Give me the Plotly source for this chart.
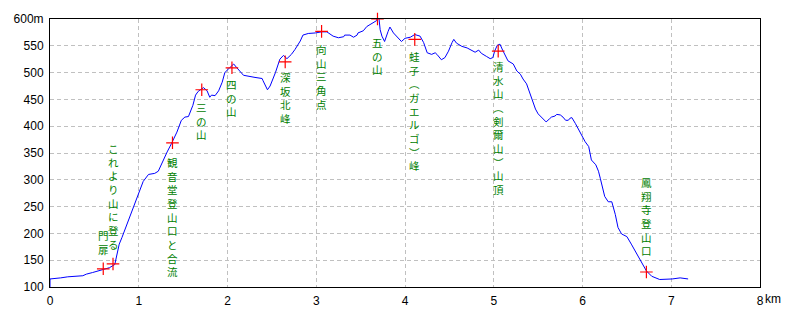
import plotly.graph_objects as go

# ---- profile data (distance km, elevation m) ----
DIST_KM = [0.00, 0.00, 0.12, 0.20, 0.37, 0.41, 0.48, 0.58, 0.67, 0.73, 0.75, 0.78, 0.81, 0.86, 0.92,
           0.98, 1.02, 1.05, 1.11, 1.18, 1.22, 1.27, 1.32, 1.37, 1.43, 1.48, 1.52, 1.56, 1.61, 1.64,
           1.67, 1.73, 1.77, 1.80, 1.82, 1.86, 1.90, 1.94, 1.97, 2.03, 2.07, 2.10, 2.14, 2.18, 2.31,
           2.39, 2.40, 2.45, 2.48, 2.54, 2.59, 2.63, 2.67, 2.72, 2.76, 2.82, 2.85, 2.91, 2.99, 3.06,
           3.12, 3.16, 3.19, 3.25, 3.31, 3.32, 3.38, 3.42, 3.46, 3.47, 3.53, 3.57, 3.61, 3.64, 3.68,
           3.70, 3.72, 3.74, 3.77, 3.81, 3.83, 3.87, 3.92, 3.96, 4.00, 4.06, 4.11, 4.17, 4.21, 4.25,
           4.30, 4.34, 4.36, 4.41, 4.45, 4.49, 4.53, 4.55, 4.58, 4.64, 4.70, 4.75, 4.79, 4.83, 4.86,
           4.92, 4.96, 4.99, 5.01, 5.04, 5.07, 5.10, 5.13, 5.16, 5.22, 5.26, 5.30, 5.33, 5.37, 5.41,
           5.45, 5.47, 5.50, 5.54, 5.59, 5.63, 5.65, 5.69, 5.71, 5.75, 5.78, 5.81, 5.84, 5.86, 5.88,
           5.92, 5.95, 5.99, 6.03, 6.07, 6.09, 6.10, 6.15, 6.18, 6.20, 6.22, 6.25, 6.29, 6.33, 6.37,
           6.40, 6.44, 6.50, 6.55, 6.61, 6.67, 6.72, 6.78, 6.87, 7.01, 7.10, 7.19]
ELEV_M = [100, 115, 117, 119, 121, 124, 127, 131, 136, 142, 156, 180, 192, 214, 239,
          264, 282, 297, 310, 312, 316, 335, 352, 368, 389, 411, 417, 418, 439, 458,
          465, 472, 466, 454, 458, 457, 466, 482, 500, 510, 516, 510, 503, 495, 491,
          489, 485, 468, 475, 500, 525, 532, 526, 534, 543, 559, 570, 573, 574, 576,
          576, 572, 568, 565, 567, 570, 570, 566, 570, 574, 578, 586, 590, 593, 597,
          612, 580, 568, 558, 577, 585, 574, 565, 558, 564, 566, 571, 568, 556, 537,
          534, 537, 534, 524, 528, 540, 556, 562, 555, 549, 546, 542, 538, 542, 536,
          530, 526, 528, 540, 551, 553, 542, 531, 522, 516, 503, 497, 488, 479, 460,
          442, 432, 423, 416, 408, 414, 417, 419, 422, 421, 417, 411, 411, 415, 416,
          405, 396, 383, 371, 362, 346, 337, 328, 316, 303, 287, 269, 259, 259, 235,
          211, 199, 194, 180, 162, 146, 130, 120, 114, 115, 117, 115]

# ---- points of interest ----
POI_KM = [0.60, 0.71, 1.38, 1.71, 2.05, 2.65, 3.06, 3.69, 4.11, 5.05, 6.72]
POI_M = [134, 143, 369, 468, 509, 520, 577, 600, 562, 540, 128]
POI_NAMES = ["門扉", "これより山に登る", "観音堂登山口と合流", "三の山", "四の山", "深坂北峰",
             "向山三角点", "五の山", "蛙子（ガエルゴ）峰", "清水山（剣爾山）山頂", "鳳翔寺登山口"]

# ---- axes ----
X_TICKS = [0, 1, 2, 3, 4, 5, 6, 7, 8]
X_TICK_LABELS = ["0", "1", "2", "3", "4", "5", "6", "7", "8"]
X_UNIT = "km"
Y_TICKS = [100, 150, 200, 250, 300, 350, 400, 450, 500, 550, 600]
Y_TICK_LABELS = ["100", "150", "200", "250", "300", "350", "400", "450", "500", "550", "600m"]

# ---- label placement (layout only): +1 above marker, -1 below; pixel shift of label box ----
LABEL_SIDE = [1, 1, -1, -1, -1, -1, -1, -1, -1, -1, 1]
LABEL_SHIFT = [11, 11, 11, 9, 8, 7, 10, 15, 9, 7, 13]
VERTICAL_FORMS = {"（": "︵", "）": "︶", "(": "︵", ")": "︶"}

fig = go.Figure()
fig.add_trace(go.Scatter(x=DIST_KM, y=ELEV_M, mode="lines",
                         line=dict(color="#0000FF", width=1), hoverinfo="skip"))
fig.add_trace(go.Scatter(x=POI_KM, y=POI_M, mode="markers",
                         marker=dict(symbol="cross-thin", size=9,
                                     line=dict(color="#FF0000", width=1.2)),
                         hoverinfo="skip", cliponaxis=False))

annotations = []
for k, name in enumerate(POI_NAMES):
    vtext = "<br>".join(VERTICAL_FORMS.get(c, c) for c in name)
    above = LABEL_SIDE[k] > 0
    annotations.append(dict(x=POI_KM[k], y=POI_M[k], xref="x", yref="y", text=vtext,
                            showarrow=False, xanchor="center",
                            yanchor="bottom" if above else "top",
                            yshift=LABEL_SHIFT[k] if above else -LABEL_SHIFT[k],
                            borderpad=0,
                            font=dict(family="Noto Sans CJK JP", size=10.5, color="#008000")))
annotations.append(dict(x=X_TICKS[-1], y=0, xref="x", yref="paper", text=X_UNIT,
                        showarrow=False, xanchor="left", yanchor="middle", xshift=3,
                        yshift=-12, font=dict(family="Liberation Sans", size=12, color="#000000")))

fig.update_layout(
    width=800, height=320,
    margin=dict(l=50, r=40, t=19, b=30),
    paper_bgcolor="white", plot_bgcolor="white",
    showlegend=False,
    annotations=annotations,
    font=dict(family="Liberation Sans", size=12, color="#000000"),
)
fig.update_xaxes(range=[0, 8], tickvals=X_TICKS, ticktext=X_TICK_LABELS,
                 showgrid=True, gridcolor="#C0C0C0", griddash="4px,3px", gridwidth=1,
                 showline=True, linecolor="#000000", linewidth=1, mirror=True,
                 zeroline=False, ticks="outside", ticklen=3, tickcolor="rgba(0,0,0,0)",
                 tickfont=dict(family="Liberation Sans", size=12, color="#000000"))
fig.update_yaxes(range=[100, 600], tickvals=Y_TICKS, ticktext=Y_TICK_LABELS,
                 showgrid=True, gridcolor="#C0C0C0", griddash="4px,3px", gridwidth=1,
                 showline=True, linecolor="#000000", linewidth=1, mirror=True,
                 zeroline=False, ticks="outside", ticklen=3, tickcolor="rgba(0,0,0,0)",
                 tickfont=dict(family="Liberation Sans", size=12, color="#000000"))

fig.write_html("out.html")
